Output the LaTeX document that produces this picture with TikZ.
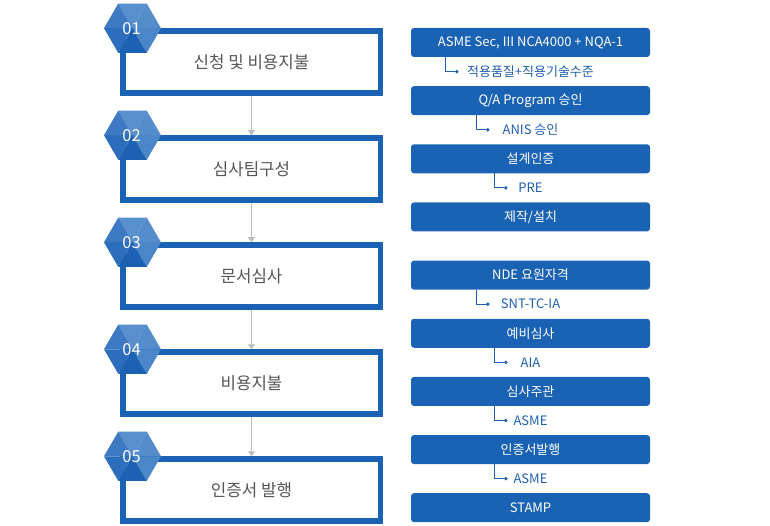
\documentclass[tikz,border=0pt]{standalone}
\usepackage{fontspec}
\setmainfont{Noto Sans CJK KR}
\usepackage{tikz}
\usetikzlibrary{positioning, arrows.meta}
\definecolor{stepblue}{HTML}{1A63B4}
\definecolor{subblue}{HTML}{1F5FAE}
\definecolor{steptext}{HTML}{555555}
\definecolor{flowgray}{HTML}{BDBDBD}
\definecolor{facettop}{HTML}{5A8FCE}
\definecolor{facettr}{HTML}{548CCC}
\definecolor{facetbr}{HTML}{4A86C8}
\definecolor{facetbot}{HTML}{1D62B2}
\definecolor{facetbl}{HTML}{2C6EBC}
\definecolor{facettl}{HTML}{3D7AC3}
\tikzstyle{stepbox} = [
    rectangle, draw=stepblue, line width=5.5pt,
    minimum width=257.5pt, minimum height=62pt, % outer size 263 x 67.5
    inner sep=0pt, text=steptext, font=\fontsize{16.8}{19}\selectfont
]
\tikzstyle{itembox} = [
    rectangle, fill=stepblue, rounded corners=3pt,
    minimum width=239pt, minimum height=29pt,
    inner sep=0pt, text=white, font=\fontsize{13}{15}\selectfont
]
\tikzstyle{sublabel} = [
    inner sep=0pt, text=subblue, font=\fontsize{13}{15}\selectfont
]
\tikzstyle{subdot} = [
    circle, fill=subblue, inner sep=0pt, minimum size=3.8pt
]
\tikzstyle{subline} = [draw=subblue, line width=1pt]
\tikzstyle{flow} = [
    draw=flowgray, line width=1pt, -{Triangle[length=5pt, width=7pt]}
]
\tikzset{
    pics/hexbadge/.style={code={
        \fill[facettop] (0,0) -- (120:28.5) -- (60:28.5) -- cycle;
        \fill[facettr] (0,0) -- (60:28.5) -- (0:28.5) -- cycle;
        \fill[facetbr] (0,0) -- (0:28.5) -- (-60:28.5) -- cycle;
        \fill[facetbot] (0,0) -- (-60:28.5) -- (-120:28.5) -- cycle;
        \fill[facetbl] (0,0) -- (-120:28.5) -- (180:28.5) -- cycle;
        \fill[facettl] (0,0) -- (180:28.5) -- (120:28.5) -- cycle;
        \node[text=white, font=\fontsize{16.5}{18}\selectfont, inner sep=0pt] (-num) at (-1,0) {#1};
    }}
}

\begin{document}
\begin{tikzpicture}[x=1pt, y=1pt, node distance=39.5pt]
        \useasboundingbox (0,0) rectangle (770,-526);

        % Steps
        \node[stepbox] (b1) at (251.5,-62) {신청 및 비용지불};
        \node[stepbox] (b2) [below=of b1] {심사팀구성};
        \node[stepbox] (b3) [below=of b2] {문서심사};
        \node[stepbox] (b4) [below=of b3] {비용지불};
        \node[stepbox] (b5) [below=of b4] {인증서 발행};

        % Flow between steps
        \draw[flow] (b1.south) -- (b2.north);
        \draw[flow] (b2.south) -- (b3.north);
        \draw[flow] (b3.south) -- (b4.north);
        \draw[flow] (b4.south) -- (b5.north);

        % Step numbers
        \pic (h1) at ([xshift=12.5pt]b1.north west) {hexbadge=01};
        \pic (h2) at ([xshift=12.5pt]b2.north west) {hexbadge=02};
        \pic (h3) at ([xshift=12.5pt]b3.north west) {hexbadge=03};
        \pic (h4) at ([xshift=12.5pt]b4.north west) {hexbadge=04};
        \pic (h5) at ([xshift=12.5pt]b5.north west) {hexbadge=05};

        % Requirements
        \node[itembox] (r1) at (530.5,-42.5) {ASME Sec, III NCA4000 + NQA-1};
        \node[itembox] (r2) [below=28.75pt of r1] {Q/A Program 승인};
        \node[itembox] (r3) [below=28.75pt of r2] {설계인증};
        \node[itembox] (r4) [below=28.75pt of r3] {제작/설치};
        \node[itembox] (r5) [below=28.75pt of r4] {NDE 요원자격};
        \node[itembox] (r6) [below=28.75pt of r5] {예비심사};
        \node[itembox] (r7) [below=28.75pt of r6] {심사주관};
        \node[itembox] (r8) [below=28.75pt of r7] {인증서발행};
        \node[itembox] (r9) [below=28.75pt of r8] {STAMP};

        % Sub labels
        \node[sublabel] (s1) at ([yshift=-14.4pt]r1.south) {적용품질+직용기술수준};
        \node[sublabel] (s2) at ([yshift=-14.4pt]r2.south) {ANIS 승인};
        \node[sublabel] (s3) at ([yshift=-14.4pt]r3.south) {PRE};
        \node[sublabel] (s5) at ([yshift=-14.4pt]r5.south) {SNT-TC-IA};
        \node[sublabel] (s6) at ([yshift=-14.4pt]r6.south) {AIA};
        \node[sublabel] (s7) at ([yshift=-14.4pt]r7.south) {ASME};
        \node[sublabel] (s8) at ([yshift=-14.4pt]r8.south) {ASME};

        \node[subdot] (d1) at ([xshift=46pt]r1.west |- s1) {};
        \node[subdot] (d2) at ([xshift=77pt]r2.west |- s2) {};
        \node[subdot] (d3) at ([xshift=95pt]r3.west |- s3) {};
        \node[subdot] (d5) at ([xshift=77pt]r5.west |- s5) {};
        \node[subdot] (d6) at ([xshift=95pt]r6.west |- s6) {};
        \node[subdot] (d7) at ([xshift=95pt]r7.west |- s7) {};
        \node[subdot] (d8) at ([xshift=95pt]r8.west |- s8) {};

        \coordinate (t1) at ([xshift=35pt]r1.south west);
        \coordinate (t2) at ([xshift=66pt]r2.south west);
        \coordinate (t3) at ([xshift=84pt]r3.south west);
        \coordinate (t5) at ([xshift=66pt]r5.south west);
        \coordinate (t6) at ([xshift=84pt]r6.south west);
        \coordinate (t7) at ([xshift=84pt]r7.south west);
        \coordinate (t8) at ([xshift=84pt]r8.south west);

        \draw[subline] (t1) |- (d1);
        \draw[subline] (t2) |- (d2);
        \draw[subline] (t3) |- (d3);
        \draw[subline] (t5) |- (d5);
        \draw[subline] (t6) |- (d6);
        \draw[subline] (t7) |- (d7);
        \draw[subline] (t8) |- (d8);

    \end{tikzpicture}
\end{document}
